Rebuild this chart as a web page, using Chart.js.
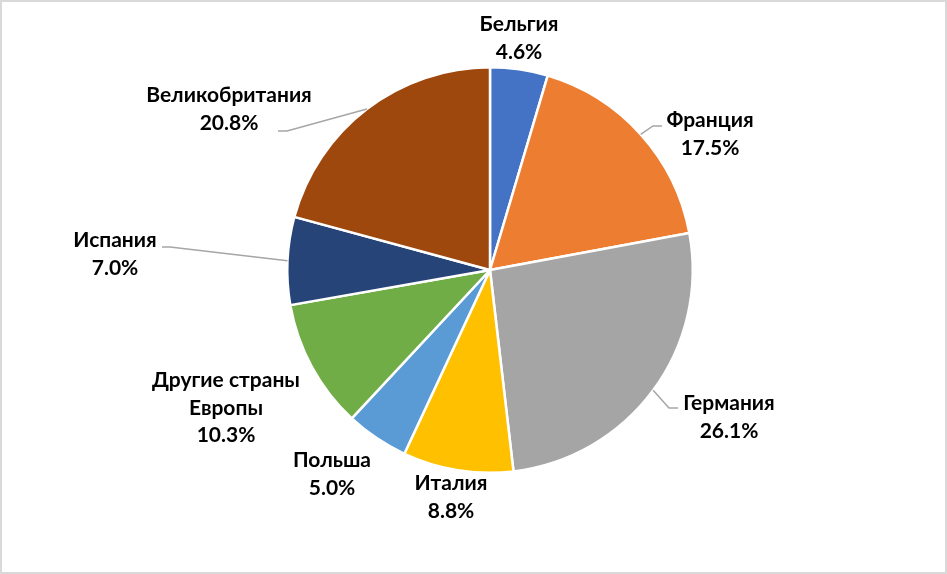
<!DOCTYPE html>
<html>
<head>
<meta charset="utf-8">
<script src="https://cdn.jsdelivr.net/npm/chart.js@4.4.0/dist/chart.umd.min.js"></script>
<style>
html,body{margin:0;padding:0;background:#fff;}
#wrap{width:947px;height:574px;position:relative;}
canvas{display:block;}
</style>
</head>
<body>
<div id="wrap"><canvas id="c" width="947" height="574"></canvas></div>
<script>
// ---- data ----
const categories = ['Бельгия', 'Франция', 'Германия', 'Италия', 'Польша', 'Другие страны Европы', 'Испания', 'Великобритания'];
const shares = [4.6, 17.5, 26.1, 8.8, 5.0, 10.3, 7.0, 20.8];
const labelLines = [['Бельгия'], ['Франция'], ['Германия'], ['Италия'], ['Польша'], ['Другие страны', 'Европы'], ['Испания'], ['Великобритания']];
const colors = ['#4472C4', '#ED7D31', '#A5A5A5', '#FFC000', '#5B9BD5', '#70AD47', '#264478', '#9E480E'];

// ---- label layout (offsets of label block centers from pie centre, px) ----
const labelOffsets = [[29, -232], [220, -136], [239, 147], [-39, 227], [-158, 204], [-264, 138], [-375, -16], [-261, -161]];
// leader lines: [elbow offset, end offset] relative to label centre, or null
const leaders = [null, [[-57, -8], [-48, -8]], [[-60, -9], [-51, -9]], null, null, null, [[55, -7], [47, -7]], [[58, 22], [49, 22]]];

const FONT = 'bold 21px Lato, "Open Sans", "DejaVu Sans", sans-serif';
const LINE_H = 27.5;

const labelPlugin = {
  id: 'pieLabels',
  afterDatasetsDraw(chart) {
    const ctx = chart.ctx;
    const meta = chart.getDatasetMeta(0);
    ctx.save();
    meta.data.forEach((arc, i) => {
      const cx = arc.x, cy = arc.y;
      const lx = cx + labelOffsets[i][0], ly = cy + labelOffsets[i][1];
      const ld = leaders[i];
      if (ld) {
        const mid = (arc.startAngle + arc.endAngle) / 2;
        const sx = cx + Math.cos(mid) * arc.outerRadius;
        const sy = cy + Math.sin(mid) * arc.outerRadius;
        ctx.beginPath();
        ctx.strokeStyle = '#A6A6A6';
        ctx.lineWidth = 1.5;
        ctx.moveTo(sx, sy);
        ctx.lineTo(lx + ld[0][0], ly + ld[0][1]);
        ctx.lineTo(lx + ld[1][0], ly + ld[1][1]);
        ctx.stroke();
      }
      const lines = labelLines[i].concat([shares[i].toFixed(1) + '%']);
      ctx.fillStyle = '#000000';
      ctx.font = FONT;
      ctx.textAlign = 'center';
      ctx.textBaseline = 'middle';
      const top = ly - (lines.length - 1) * LINE_H / 2;
      lines.forEach((t, k) => ctx.fillText(t, lx, top + k * LINE_H));
    });
    // chart frame
    ctx.strokeStyle = '#D9D9D9';
    ctx.lineWidth = 2;
    ctx.strokeRect(1, 1, chart.width - 2, chart.height - 2);
    ctx.restore();
  }
};

new Chart(document.getElementById('c'), {
  type: 'pie',
  data: {
    labels: categories,
    datasets: [{
      data: shares,
      backgroundColor: colors,
      borderColor: '#FFFFFF',
      borderWidth: 2.5,
      hoverOffset: 0
    }]
  },
  options: {
    responsive: false,
    animation: false,
    layout: { padding: { top: 66, bottom: 100, left: 286, right: 253 } },
    plugins: { legend: { display: false }, tooltip: { enabled: false } }
  },
  plugins: [labelPlugin]
});
</script>
</body>
</html>
